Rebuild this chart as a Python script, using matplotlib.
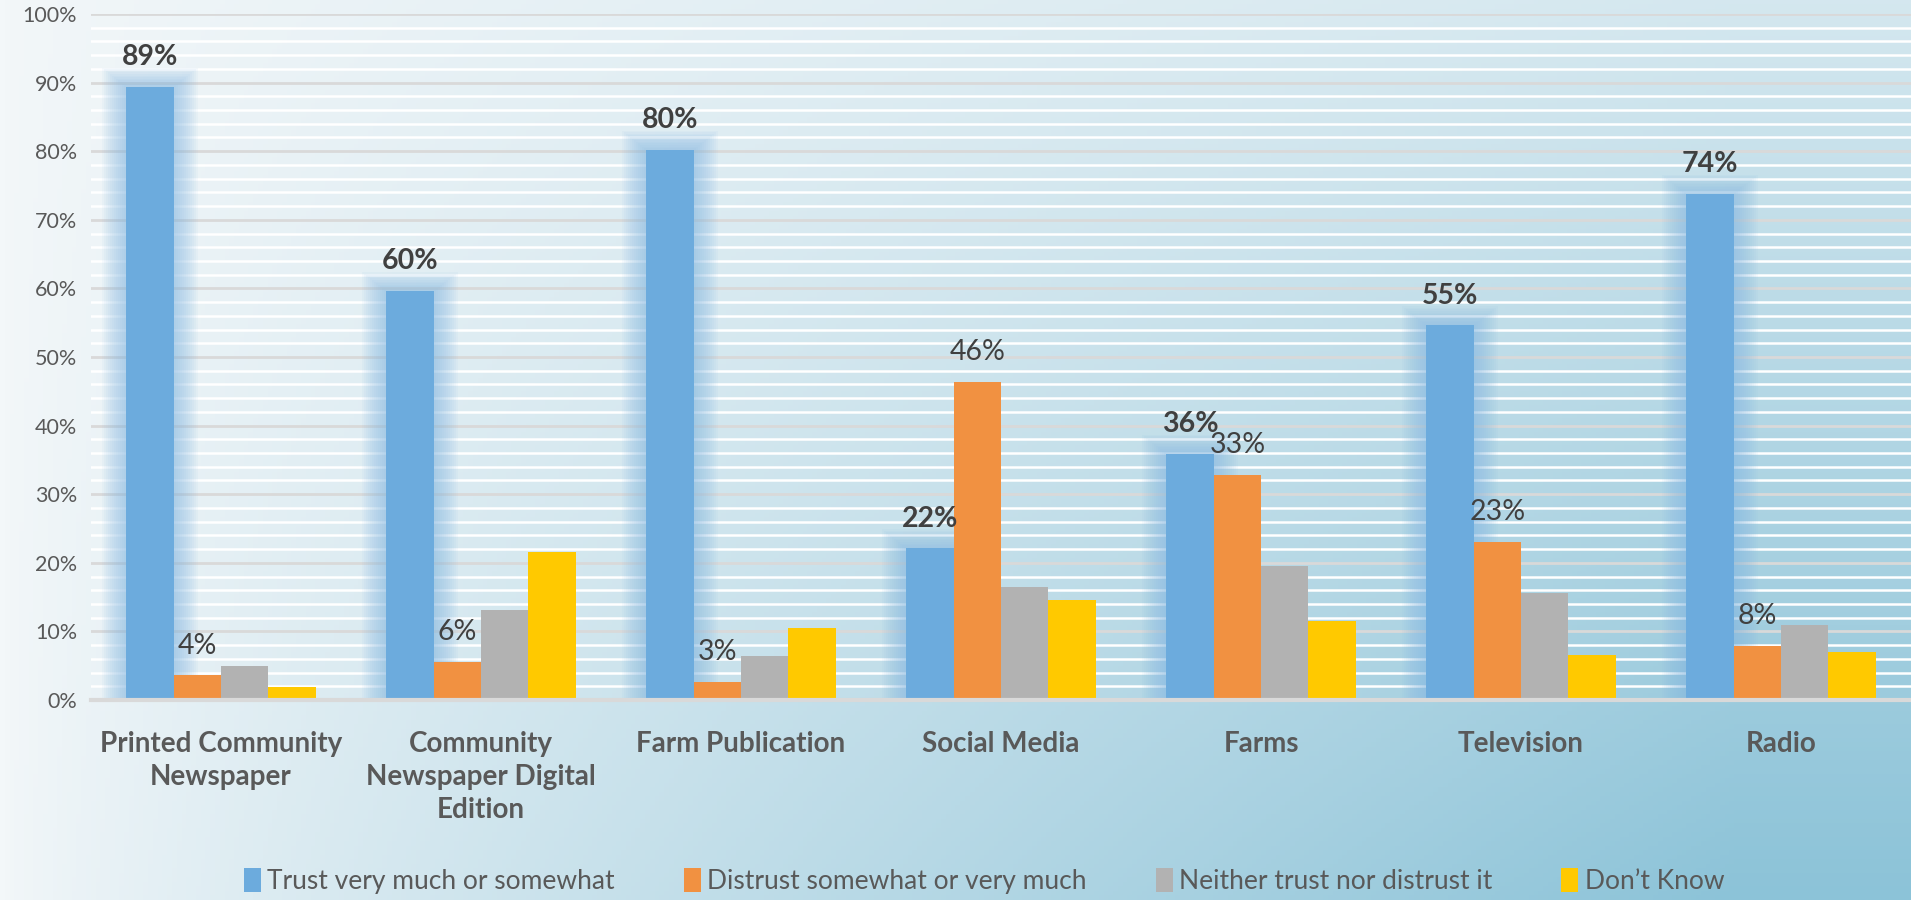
import numpy as np
import matplotlib
matplotlib.use("Agg")
import matplotlib.pyplot as plt
from matplotlib.patches import Patch
from matplotlib.ticker import MultipleLocator, PercentFormatter

# -----------------------------
# Data
# -----------------------------
categories = [
    "Printed Community\nNewspaper",
    "Community\nNewspaper Digital\nEdition",
    "Farm Publication",
    "Social Media",
    "Farms",
    "Television",
    "Radio",
]
series_names = [
    "Trust very much or somewhat",
    "Distrust somewhat or very much",
    "Neither trust nor distrust it",
    "Don\u2019t Know",
]
trust = [89.4, 59.6, 80.2, 22.1, 35.9, 54.6, 73.8]
distrust = [3.6, 5.6, 2.6, 46.4, 32.8, 23.1, 7.9]
neither = [4.9, 13.1, 6.4, 16.5, 19.6, 15.6, 11.0]
dont_know = [1.9, 21.6, 10.5, 14.6, 11.5, 6.5, 7.0]

colors = ["#6cabdd", "#f19141", "#b2b2b2", "#ffc900"]

plt.rcParams["font.family"] = ["Lato", "DejaVu Sans"]

# -----------------------------
# Figure + gradient background
# -----------------------------
fig = plt.figure(figsize=(19.11, 9.0), dpi=100)

bg = fig.add_axes([0, 0, 1, 1], zorder=-10)
gx, gy = np.meshgrid(np.linspace(0, 1, 400), np.linspace(0, 1, 200))
f = np.clip(gx * 1.1, 0, 1) ** 0.8 * (0.3 + 0.7 * gy)
c0 = np.array([243, 247, 249]) / 255
c1 = np.array([140, 195, 216]) / 255
img = c0[None, None, :] * (1 - f[..., None]) + c1[None, None, :] * f[..., None]
bg.imshow(img, aspect="auto", extent=[0, 1, 0, 1], origin="upper")
bg.axis("off")

ax = fig.add_axes([91 / 1911, 1 - 700 / 900, 1 - 91 / 1911, (700 - 14) / 900])
ax.set_facecolor("none")

x = np.arange(len(categories))
w = 0.182
values = [trust, distrust, neither, dont_know]
offsets = [-1.5, -0.5, 0.5, 1.5]

# soft glow behind the blue bars
px_x = 7 / 1820
px_y = 100 / 686
for k in range(1, 13):
    d = 2 * k
    ax.bar(x + offsets[0] * w, [v + d * px_y * 0.8 for v in trust],
           width=w + 2 * d * px_x, color="#86b9e3", alpha=0.065,
           linewidth=0, zorder=1)

for vals, off, col, name in zip(values, offsets, colors, series_names):
    ax.bar(x + off * w, vals, width=w, color=col, linewidth=0,
           zorder=2, label=name)

# data labels
for xi, v in zip(x, trust):
    ax.annotate(f"{v:.0f}%", (xi + offsets[0] * w, v), xytext=(0, 12),
                textcoords="offset points", ha="center", va="bottom",
                fontsize=20.5, fontweight="bold", color="#404040", zorder=5)
for xi, v in zip(x, distrust):
    ax.annotate(f"{v:.0f}%", (xi + offsets[1] * w, v), xytext=(0, 12),
                textcoords="offset points", ha="center", va="bottom",
                fontsize=20.5, color="#404040", zorder=5)

# axes styling
ax.set_xlim(-0.5, len(categories) - 0.5)
ax.set_ylim(0, 100)
ax.yaxis.set_major_locator(MultipleLocator(10))
ax.yaxis.set_minor_locator(MultipleLocator(2))
ax.yaxis.set_major_formatter(PercentFormatter(decimals=0))
ax.set_axisbelow(True)
ax.grid(axis="y", which="minor", color="white", linewidth=1.8, zorder=0)
ax.grid(axis="y", which="major", color="#d9d9d9", linewidth=2, zorder=0)

ax.set_xticks(x)
ax.set_xticklabels(categories, fontsize=20, fontweight="bold",
                   color="#595959", linespacing=1.35)
ax.tick_params(axis="x", length=0, pad=22)
ax.tick_params(axis="y", which="both", length=0, labelsize=15.5,
               labelcolor="#595959", pad=10)
for s in ["top", "right", "left"]:
    ax.spines[s].set_visible(False)
ax.spines["bottom"].set_color("#d9d9d9")
ax.spines["bottom"].set_linewidth(3)

handles = [Patch(facecolor=c, edgecolor="none") for c in colors]
fig.legend(handles, series_names, loc="lower center",
           bbox_to_anchor=(0.515, -0.02), ncol=4, frameon=False,
           fontsize=19, labelcolor="#595959", handlelength=0.65,
           handleheight=1.0, handletextpad=0.25, columnspacing=2.6)

plt.savefig("out.png", dpi=100)
